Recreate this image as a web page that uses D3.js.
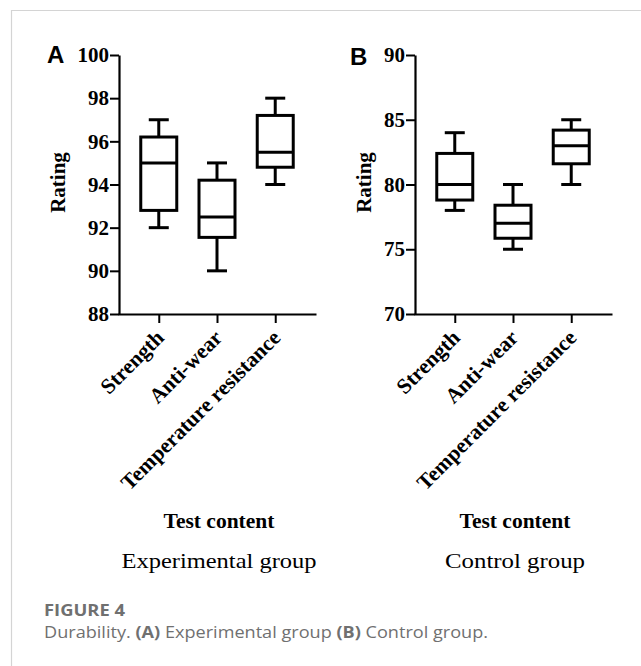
<!DOCTYPE html>
<html><head><meta charset="utf-8">
<script src="https://cdn.jsdelivr.net/npm/d3@7"></script>
<style>
html,body{margin:0;padding:0;background:#fff;}
svg{display:block;}
</style></head>
<body>
<script>
// ---- data ----
const categories = ["Strength", "Anti-wear", "Temperature resistance"];
// Experimental group (panel A)
const expMin = [92, 90, 94];
const expQ1  = [92.8, 91.55, 94.8];
const expMed = [95, 92.5, 95.5];
const expQ3  = [96.2, 94.2, 97.2];
const expMax = [97, 95, 98];
const expTicks = [88, 90, 92, 94, 96, 98, 100];
// Control group (panel B)
const ctrlMin = [78, 75, 80];
const ctrlQ1  = [78.8, 75.85, 81.6];
const ctrlMed = [80, 77, 83];
const ctrlQ3  = [82.4, 78.4, 84.2];
const ctrlMax = [84, 80, 85];
const ctrlTicks = [70, 75, 80, 85, 90];

const W = 641, H = 666;
const svg = d3.select("body").append("svg").attr("width", W).attr("height", H);

// frame
svg.append("path").attr("d", `M11.5,${H} V10.5 H${W}`)
  .attr("fill", "none").attr("stroke", "#d4d4d4").attr("stroke-width", 1.2);

const serif = "'Liberation Serif','Times New Roman',serif";

function panel(opts) {
  const {x0, x1, yTop, yBot, domain, ticks, mins, q1, med, q3, maxs, letter, letterX, letterY, ratingX, groupName, groupLen} = opts;
  const y = d3.scaleLinear().domain(domain).range([yBot, yTop]);
  const x = d3.scalePoint().domain(categories).range([x0, x1]).padding(0.7);
  const g = svg.append("g");

  // y axis
  const ya = g.append("g").attr("transform", `translate(${x0 + 1},0)`)
    .call(d3.axisLeft(y).tickValues(ticks).tickSize(9).tickSizeOuter(0).tickPadding(1));
  ya.select(".domain").attr("stroke", "#000").attr("stroke-width", 2.2);
  ya.selectAll(".tick line").attr("stroke", "#000").attr("stroke-width", 2);
  ya.selectAll(".tick text").attr("font-family", serif).attr("font-weight", "bold")
    .attr("font-size", 21).attr("fill", "#000");

  // x axis
  const xa = g.append("g").attr("transform", `translate(0,${yBot})`)
    .call(d3.axisBottom(x).tickSize(9).tickSizeOuter(0));
  xa.select(".domain").attr("stroke", "#000").attr("stroke-width", 2.2);
  xa.selectAll(".tick line").attr("stroke", "#000").attr("stroke-width", 2);
  xa.selectAll(".tick text").attr("font-family", serif).attr("font-weight", "bold")
    .attr("font-size", 21.5).attr("fill", "#000")
    .attr("x", 0).attr("y", 0).attr("dy", null)
    .attr("text-anchor", "end")
    .attr("transform", "translate(6,25) rotate(-45)");

  // boxes
  const bw = 36, cw = 20;
  const idx = d3.range(categories.length);
  const bg = g.append("g").attr("fill", "none").attr("stroke", "#000").attr("stroke-width", 3);
  idx.forEach(i => {
    const cx = x(categories[i]);
    bg.append("line").attr("x1", cx).attr("x2", cx).attr("y1", y(maxs[i])).attr("y2", y(q3[i]));
    bg.append("line").attr("x1", cx).attr("x2", cx).attr("y1", y(q1[i])).attr("y2", y(mins[i]));
    bg.append("line").attr("x1", cx - cw/2).attr("x2", cx + cw/2).attr("y1", y(maxs[i])).attr("y2", y(maxs[i]));
    bg.append("line").attr("x1", cx - cw/2).attr("x2", cx + cw/2).attr("y1", y(mins[i])).attr("y2", y(mins[i]));
    bg.append("rect").attr("x", cx - bw/2).attr("width", bw)
      .attr("y", y(q3[i])).attr("height", y(q1[i]) - y(q3[i]));
    bg.append("line").attr("x1", cx - bw/2).attr("x2", cx + bw/2).attr("y1", y(med[i])).attr("y2", y(med[i]));
  });

  // y label
  g.append("text").attr("transform", `translate(${ratingX},${(yTop + yBot)/2 - 2}) rotate(-90)`)
    .attr("text-anchor", "middle").attr("font-family", serif).attr("font-weight", "bold")
    .attr("font-size", 21).text("Rating");

  const cxm = (x0 + x1) / 2;
  g.append("text").attr("x", cxm + 2).attr("y", 528).attr("text-anchor", "middle")
    .attr("font-family", serif).attr("font-weight", "bold").attr("font-size", 21.5)
    .text("Test content");
  g.append("text").attr("x", cxm + 2).attr("y", 568).attr("text-anchor", "middle")
    .attr("font-family", serif).attr("font-size", 21)
    .attr("textLength", groupLen).attr("lengthAdjust", "spacingAndGlyphs")
    .text(groupName);

  // panel letter
  g.append("text").attr("x", letterX).attr("y", letterY)
    .attr("font-family", "'Liberation Sans',Arial,sans-serif").attr("font-weight", "bold")
    .attr("font-size", 24).text(letter);
}

panel({x0: 118, x1: 316, yTop: 55, yBot: 314, domain: [88, 100], ticks: expTicks,
  mins: expMin, q1: expQ1, med: expMed, q3: expQ3, maxs: expMax,
  letter: "A", letterX: 47, letterY: 63, ratingX: 65, groupName: "Experimental group", groupLen: 195});
panel({x0: 414, x1: 612, yTop: 55, yBot: 314, domain: [70, 90], ticks: ctrlTicks,
  mins: ctrlMin, q1: ctrlQ1, med: ctrlMed, q3: ctrlQ3, maxs: ctrlMax,
  letter: "B", letterX: 350, letterY: 65, ratingX: 371, groupName: "Control group", groupLen: 140});

// caption
const sans = "'Open Sans','Noto Sans',sans-serif";
svg.append("text").attr("x", 44).attr("y", 616).attr("font-family", sans)
  .attr("font-weight", 700).attr("font-size", 16.5).attr("fill", "#707070")
  .attr("textLength", 81).attr("lengthAdjust", "spacingAndGlyphs").text("FIGURE 4");
const cap = svg.append("text").attr("x", 44).attr("y", 637.5).attr("font-family", sans)
  .attr("font-size", 16.5).attr("fill", "#707070")
  .attr("textLength", 444).attr("lengthAdjust", "spacingAndGlyphs");
cap.append("tspan").text("Durability. ");
cap.append("tspan").attr("font-weight", 700).text("(A)");
cap.append("tspan").text(" Experimental group ");
cap.append("tspan").attr("font-weight", 700).text("(B)");
cap.append("tspan").text(" Control group.");
</script>
</body></html>
